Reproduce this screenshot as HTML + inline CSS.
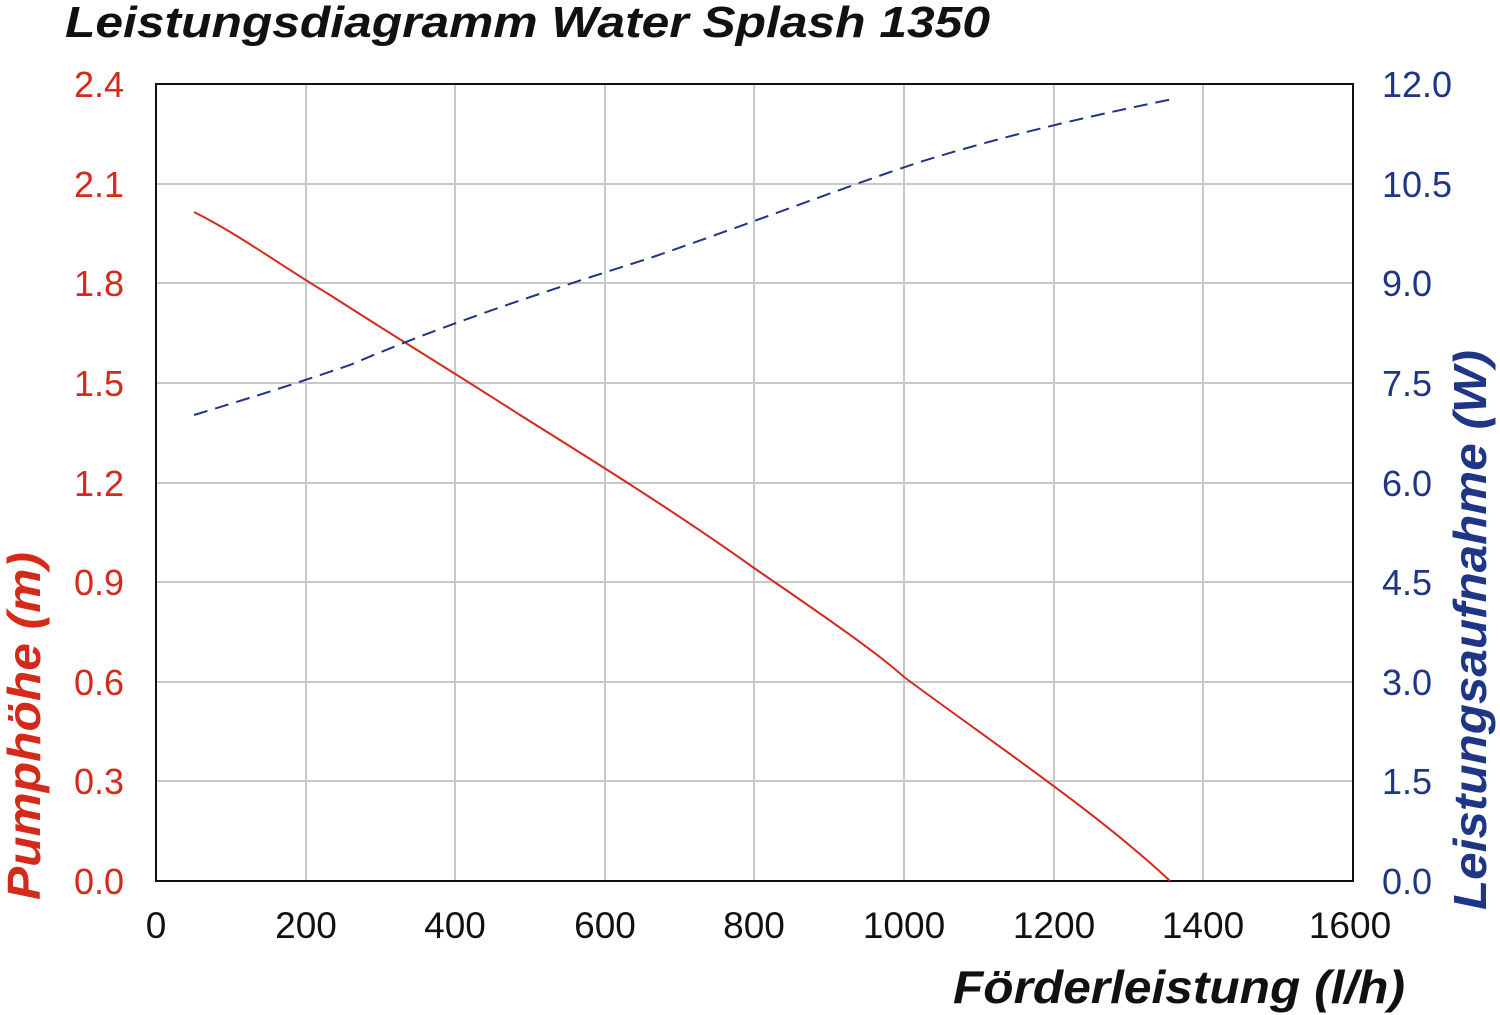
<!DOCTYPE html>
<html><head><meta charset="utf-8"><style>
html,body{margin:0;padding:0;background:#fff}
svg{display:block}
text{font-family:"Liberation Sans",Arial,sans-serif}
</style></head><body>
<svg width="1500" height="1015" viewBox="0 0 1500 1015" xmlns="http://www.w3.org/2000/svg">
<rect width="1500" height="1015" fill="#fff"/>
<text x="65" y="37" font-size="44" font-weight="bold" font-style="italic" fill="#111" textLength="925" lengthAdjust="spacingAndGlyphs">Leistungsdiagramm Water Splash 1350</text>
<g stroke="#c8c8c8" stroke-width="2">
<line x1="306" y1="84" x2="306" y2="881"/><line x1="455" y1="84" x2="455" y2="881"/>
<line x1="605" y1="84" x2="605" y2="881"/><line x1="754" y1="84" x2="754" y2="881"/>
<line x1="904" y1="84" x2="904" y2="881"/><line x1="1054" y1="84" x2="1054" y2="881"/>
<line x1="1203" y1="84" x2="1203" y2="881"/>
<line x1="156" y1="184" x2="1353" y2="184"/><line x1="156" y1="283" x2="1353" y2="283"/>
<line x1="156" y1="383" x2="1353" y2="383"/><line x1="156" y1="483" x2="1353" y2="483"/>
<line x1="156" y1="582" x2="1353" y2="582"/><line x1="156" y1="682" x2="1353" y2="682"/>
<line x1="156" y1="781" x2="1353" y2="781"/>
</g>
<rect x="156" y="84" width="1197" height="797" fill="none" stroke="#111" stroke-width="2"/>
<path d="M194,212 C240,235 280,265 330,295 C400,340 450,370 520,415 C600,465 680,515 754,568 C830,620 880,655 904,677 C1000,748 1100,815 1170,881" fill="none" stroke="#d42a1a" stroke-width="2"/>
<path d="M194,415 C260,395 300,382 350,365 C450,322 550,290 650,258 C760,220 850,185 920,162 C1000,137 1080,118 1173,99" fill="none" stroke="#1f3585" stroke-width="2" stroke-dasharray="14,8"/>
<g font-size="36" fill="#d42a1a" text-anchor="end">
<text x="124" y="97">2.4</text><text x="124" y="197">2.1</text><text x="124" y="296">1.8</text>
<text x="124" y="396">1.5</text><text x="124" y="496">1.2</text><text x="124" y="595">0.9</text>
<text x="124" y="695">0.6</text><text x="124" y="794">0.3</text><text x="124" y="894">0.0</text>
</g>
<g font-size="36" fill="#1f3585">
<text x="1382" y="97">12.0</text><text x="1382" y="197">10.5</text><text x="1382" y="296">9.0</text>
<text x="1382" y="396">7.5</text><text x="1382" y="496">6.0</text><text x="1382" y="595">4.5</text>
<text x="1382" y="695">3.0</text><text x="1382" y="794">1.5</text><text x="1382" y="894">0.0</text>
</g>
<g font-size="37" fill="#111" text-anchor="middle">
<text x="156" y="938">0</text><text x="306" y="938">200</text><text x="455" y="938">400</text>
<text x="605" y="938">600</text><text x="754" y="938">800</text><text x="904" y="938">1000</text>
<text x="1054" y="938">1200</text><text x="1203" y="938">1400</text><text x="1350" y="938">1600</text>
</g>
<text x="953" y="1003" font-size="46" font-weight="bold" font-style="italic" fill="#111" textLength="452" lengthAdjust="spacingAndGlyphs">Förderleistung (l/h)</text>
<text transform="translate(40,900) rotate(-90)" font-size="46" font-weight="bold" font-style="italic" fill="#d42a1a" textLength="348" lengthAdjust="spacingAndGlyphs">Pumphöhe (m)</text>
<text transform="translate(1486,910) rotate(-90)" font-size="46" font-weight="bold" font-style="italic" fill="#1f3585" textLength="560" lengthAdjust="spacingAndGlyphs">Leistungsaufnahme (W)</text>
</svg>
</body></html>
